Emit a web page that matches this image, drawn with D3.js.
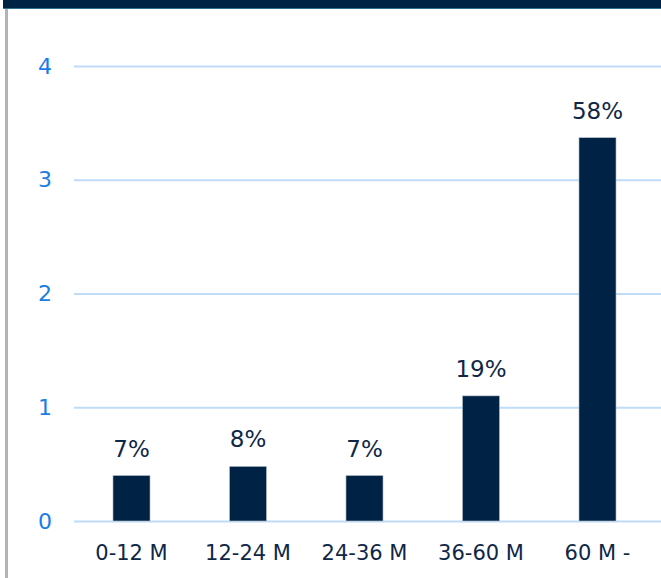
<!DOCTYPE html>
<html><head><meta charset="utf-8">
<script src="https://cdn.jsdelivr.net/npm/d3@7"></script>
<style>html,body{margin:0;padding:0;background:#fff;overflow:hidden}</style>
</head><body>
<svg id="c" width="661" height="578"></svg>
<script>
const categories = ["0-12 M","12-24 M","24-36 M","36-60 M","60 M -"];
const values = [0.40, 0.48, 0.40, 1.10, 3.37];
const labels = ["7%","8%","7%","19%","58%"];
const yTicks = [0,1,2,3,4];

const svg = d3.select("#c");
const W = 661, H = 578;
const x = d3.scaleBand().domain(categories).range([73.25, 655.75]).paddingInner(0.682).paddingOuter(0.341);
const y = d3.scaleLinear().domain([0,4]).range([521, 66]);

// top band and left rule
svg.append("rect").attr("x",3).attr("y",0).attr("width",W-3).attr("height",8).attr("fill","#002245");
svg.append("rect").attr("x",3).attr("y",8).attr("width",W-3).attr("height",1).attr("fill","#2f6f94");
svg.append("rect").attr("x",5).attr("y",9).attr("width",3).attr("height",H-9).attr("fill","#b3b3b3");

const font = "DejaVu Sans";
// grid
svg.append("g").selectAll("line").data(yTicks).join("line")
  .attr("x1",74).attr("x2",W).attr("y1",d=>y(d)+0.5).attr("y2",d=>y(d)+0.5)
  .attr("stroke","#bfdcf7").attr("stroke-width",2);

// y axis labels
const yAxis = d3.axisLeft(y).tickValues(yTicks).tickSize(0).tickPadding(0).tickFormat(d3.format("d"));
const gy = svg.append("g").attr("transform","translate(52,0)").call(yAxis);
gy.select(".domain").remove();
gy.selectAll("text").attr("fill","#1a7de6").attr("font-family",font).attr("font-size",22);

// bars
svg.append("g").selectAll("rect").data(categories).join("rect")
  .attr("x",d=>x(d)).attr("width",x.bandwidth())
  .attr("y",(d,i)=>y(values[i])).attr("height",(d,i)=>y(0)-y(values[i]))
  .attr("fill","#002245").attr("stroke","#b8c2cc").attr("stroke-width",0.6);

// value labels
svg.append("g").selectAll("text").data(categories).join("text")
  .attr("x",d=>x(d)+x.bandwidth()/2).attr("y",(d,i)=>y(values[i])-19)
  .attr("text-anchor","middle").attr("fill","#0f2747")
  .attr("font-family",font).attr("font-size",23).text((d,i)=>labels[i]);

// x axis labels
const xAxis = d3.axisBottom(x).tickSize(0).tickPadding(0);
const gx = svg.append("g").attr("transform","translate(0,545)").call(xAxis);
gx.select(".domain").remove();
gx.selectAll("text").attr("fill","#0f2747").attr("font-family",font).attr("font-size",21).attr("dy","0.71em");
</script>
</body></html>
